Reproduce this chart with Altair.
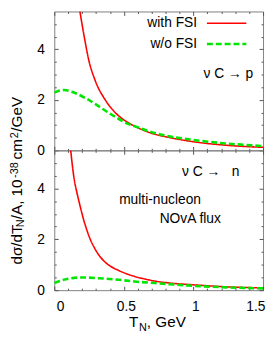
import altair as alt
import pandas as pd

# ---------------- data ----------------
SERIES = ["with FSI", "w/o FSI"]
COLORS = ["#ff0000", "#00e600"]

# nu C -> p
T_P_WITH = [0.184, 0.212, 0.248, 0.295, 0.366, 0.437, 0.53, 0.58, 0.72, 0.816, 1.0, 1.24, 1.5]
V_P_WITH = [5.5, 4.6, 3.57, 2.75, 2.0, 1.5, 1.1, 0.95, 0.64, 0.52, 0.34, 0.2, 0.12]
T_P_WO = [0.0, 0.07, 0.14, 0.224, 0.318, 0.41, 0.53, 0.58, 0.72, 1.0, 1.24, 1.5]
V_P_WO = [2.29, 2.39, 2.29, 2.07, 1.75, 1.42, 1.05, 0.95, 0.69, 0.41, 0.27, 0.17]

# nu C -> n
T_N_WITH = [0.118, 0.13, 0.145, 0.16, 0.177, 0.195, 0.212, 0.235, 0.26, 0.29, 0.318, 0.36,
            0.41, 0.46, 0.507, 0.578, 0.65, 0.72, 0.85, 1.0, 1.24, 1.5]
V_N_WITH = [5.5, 4.9, 4.3, 3.9, 3.5, 3.1, 2.75, 2.35, 1.98, 1.65, 1.4, 1.13,
            0.92, 0.78, 0.67, 0.54, 0.44, 0.36, 0.27, 0.21, 0.13, 0.09]
T_N_WO = [0.0, 0.083, 0.2, 0.318, 0.46, 0.578, 0.72, 1.0, 1.24, 1.5]
V_N_WO = [0.28, 0.43, 0.50, 0.47, 0.41, 0.34, 0.28, 0.17, 0.11, 0.07]

X_DOMAIN = [0, 1.5]
Y_DOMAIN = [0, 5.5]
X_LABELS = [0, 0.5, 1, 1.5]
Y_LABELS = [0, 2, 4]
X_MAJOR = [0, 0.5, 1.0, 1.5]
X_MINOR = [0.1, 0.2, 0.3, 0.4, 0.6, 0.7, 0.8, 0.9, 1.1, 1.2, 1.3, 1.4]
Y_MAJOR = [0, 2, 4]
Y_MINOR = [0.5, 1, 1.5, 2.5, 3, 3.5, 4.5, 5]


def frame_of(t_with, v_with, t_wo, v_wo):
    return pd.concat([
        pd.DataFrame({"T": t_with, "v": v_with, "series": SERIES[0]}),
        pd.DataFrame({"T": t_wo, "v": v_wo, "series": SERIES[1]}),
    ], ignore_index=True)


df_p = frame_of(T_P_WITH, V_P_WITH, T_P_WO, V_P_WO)
df_n = frame_of(T_N_WITH, V_N_WITH, T_N_WO, V_N_WO)

# ---------------- styling ----------------
FONT = "Liberation Sans"
FRAME = "#808080"
TICK = "#555555"
W = 212
H1 = 141
H2 = 142
TF = 15.5   # axis-title font size
SF = 11     # sub/superscript font size

xs = alt.Scale(domain=X_DOMAIN, nice=False, zero=False)
ys = alt.Scale(domain=Y_DOMAIN, nice=False, zero=False)

color = alt.Color("series:N", scale=alt.Scale(domain=SERIES, range=COLORS), legend=None)
dash = alt.StrokeDash("series:N", scale=alt.Scale(domain=SERIES, range=[[1, 0], [6, 3]]), legend=None)
swidth = alt.StrokeWidth("series:N", scale=alt.Scale(domain=SERIES, range=[1.6, 2.6]), legend=None)


def label_axis_x():
    return alt.Axis(values=X_LABELS, format="~g", ticks=False, tickSize=0, domain=False, grid=False,
                    title=None, labelPadding=10, labelOffset=2, labelFont=FONT, labelFontSize=14,
                    labelColor="black")


def label_axis_y():
    return alt.Axis(values=Y_LABELS, format="~g", ticks=False, tickSize=0, domain=False, grid=False,
                    title=None, labelPadding=10, labelFont=FONT, labelFontSize=14, labelColor="black",
                    orient="left")


def tick_axis(orient, offset, vals, size):
    return alt.Axis(orient=orient, offset=offset, values=vals, labels=False, domain=False, grid=False,
                    ticks=True, tickSize=size, tickColor=TICK, tickWidth=1, title=None)


def text(t, x, y, size=14, align="left", baseline="middle", angle=0):
    return alt.Chart(pd.DataFrame({"t": [t]})).mark_text(
        font=FONT, fontSize=size, align=align, baseline=baseline, angle=angle, color="black"
    ).encode(x=alt.value(x), y=alt.value(y), text="t:N")


def panel(df, h, show_xlabels, extras):
    base = alt.Chart(df)
    lines = base.mark_line(clip=True, interpolate="monotone").encode(
        x=alt.X("T:Q", scale=xs, axis=label_axis_x() if show_xlabels else None),
        y=alt.Y("v:Q", scale=ys, axis=label_axis_y()),
        color=color, strokeDash=dash, strokeWidth=swidth, detail="series:N",
    )
    tick_layers = []
    for xv, yv, size in [(X_MAJOR, Y_MAJOR, 4), (X_MINOR, Y_MINOR, 2)]:
        # bottom edge (ticks up) and left edge (ticks right)
        tick_layers.append(base.mark_point(opacity=0, size=0).encode(
            x=alt.X("T:Q", scale=xs, axis=tick_axis("top", -h, xv, size)),
            y=alt.Y("v:Q", scale=ys, axis=tick_axis("right", -W, yv, size)),
        ))
        # top edge (ticks down) and right edge (ticks left)
        tick_layers.append(base.mark_point(opacity=0, size=0).encode(
            x=alt.X("T:Q", scale=xs, axis=tick_axis("bottom", -h, xv, size)),
            y=alt.Y("v:Q", scale=ys, axis=tick_axis("left", -W, yv, size)),
        ))
    return alt.layer(lines, *tick_layers, *extras).resolve_axis(
        x="independent", y="independent"
    ).properties(width=W, height=h)


def legend_rule(idx, y):
    return alt.Chart(pd.DataFrame({"s": [SERIES[idx]]})).mark_rule(
        color=COLORS[idx], strokeWidth=[1.6, 2.6][idx], strokeDash=[[1, 0], [6, 3]][idx]
    ).encode(x=alt.value(155), x2=alt.value(195), y=alt.value(y))


top_extras = [
    text("with FSI", 145, 12, align="right"),
    legend_rule(0, 12),
    text("w/o FSI", 145, 33, align="right"),
    legend_rule(1, 33),
    text("\u03bd C \u2192 p", 202, 64, align="right"),
]

YT = -32.5   # baseline of the rotated y title (plot coords of the lower panel)
SUP = YT - 4.5
SUB = YT + 2
bottom_extras = [
    text("\u03bd C \u2192\u00a0\u00a0 n", 188, 22, align="right"),
    text("multi-nucleon", 149, 50, align="right"),
    text("NOvA flux", 107, 70, align="left"),
    # x-axis title  T_N, GeV
    text("T", 76, 179, size=TF, baseline="alphabetic"),
    text("N", 86, 183, size=SF, baseline="alphabetic"),
    text(", GeV", 94, 179, size=TF, baseline="alphabetic"),
    # y-axis title  dσ/dT_N/A, 10^-38 cm^2/GeV (rotated, reading upwards)
    text("d\u03c3/dT", YT, 116, size=TF, angle=270, baseline="alphabetic"),
    text("N", SUB, 78, size=SF, angle=270, baseline="alphabetic"),
    text("/A, 10", YT, 70, size=TF, angle=270, baseline="alphabetic"),
    text("-38", SUP, 28, size=SF, angle=270, baseline="alphabetic"),
    text("cm", YT, 9.3, size=TF, angle=270, baseline="alphabetic"),
    text("2", SUP, -12.3, size=SF, angle=270, baseline="alphabetic"),
    text("/GeV", YT, -19, size=TF, angle=270, baseline="alphabetic"),
]

top = panel(df_p, H1, False, top_extras)
bottom = panel(df_n, H2, True, bottom_extras)

chart = alt.vconcat(top, bottom, spacing=0, bounds="flush").properties(
    padding=0
).configure_view(stroke=FRAME, strokeWidth=1)

chart.save("out.html", embed_options={"renderer": "svg", "actions": False})
